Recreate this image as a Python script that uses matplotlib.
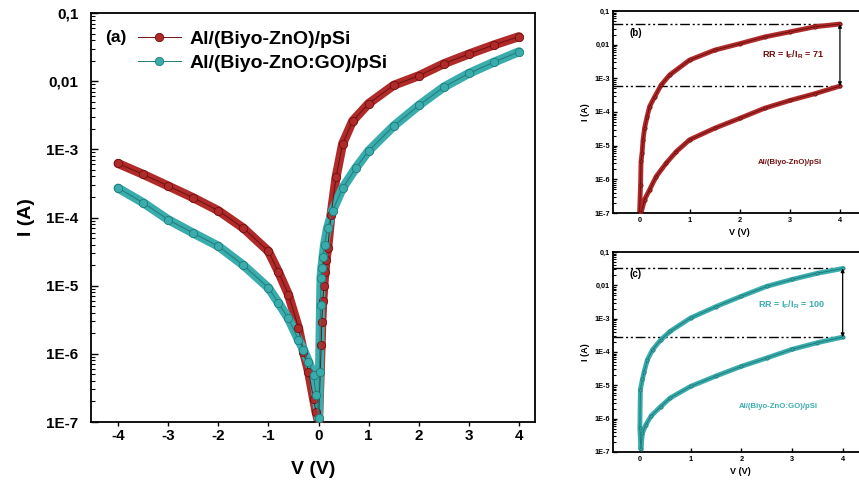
import numpy as np
import matplotlib
matplotlib.use("Agg")
import matplotlib.pyplot as plt
from matplotlib.ticker import FixedLocator, LogLocator, NullFormatter

plt.rcParams["font.family"] = ["Liberation Sans", "DejaVu Sans"]
plt.rcParams["font.weight"] = "bold"
plt.rcParams["mathtext.default"] = "regular"

# ---- panel (a): full sweep ----
v_rev = [-4.0, -3.5, -3.0, -2.5, -2.0, -1.5, -1.0, -0.8, -0.6, -0.4, -0.3, -0.2, -0.1, -0.05, 0.0]
i_rev_zno = [6.2e-4, 4.3e-4, 2.9e-4, 1.95e-4, 1.26e-4, 7.0e-5, 3.2e-5, 1.6e-5, 7.4e-6,
             2.4e-6, 1.07e-6, 5.5e-7, 2.2e-7, 1.4e-7, 1.0e-7]
i_rev_go = [2.7e-4, 1.65e-4, 9.3e-5, 5.9e-5, 3.8e-5, 2.0e-5, 9.3e-6, 5.6e-6, 3.3e-6,
            1.6e-6, 1.15e-6, 7.7e-7, 4.9e-7, 2.5e-7, 1.15e-7]

v_fwd_zno = [0.0, 0.053, 0.066, 0.086, 0.106, 0.13, 0.15, 0.185, 0.25, 0.35, 0.48, 0.68,
             1.0, 1.5, 2.0, 2.5, 3.0, 3.5, 4.0]
i_fwd_zno = [1.0e-7, 1.35e-6, 2.95e-6, 5.9e-6, 1.0e-5, 1.6e-5, 2.4e-5, 3.6e-5, 1.1e-4, 3.9e-4,
             1.2e-3, 2.6e-3, 4.7e-3, 8.7e-3, 1.2e-2, 1.8e-2, 2.5e-2, 3.4e-2, 4.5e-2]
v_fwd_go = [0.0, 0.02, 0.04, 0.05, 0.065, 0.09, 0.12, 0.18, 0.28, 0.48, 0.75,
            1.0, 1.5, 2.0, 2.5, 3.0, 3.5, 4.0]
i_fwd_go = [1.15e-7, 5.5e-7, 5.2e-6, 1.3e-5, 1.8e-5, 2.6e-5, 4.0e-5, 7.0e-5, 1.26e-4, 2.7e-4,
            5.4e-4, 9.5e-4, 2.2e-3, 4.4e-3, 8.2e-3, 1.3e-2, 1.9e-2, 2.7e-2]

# ---- panel (b): |I| vs |V| for Al/(Biyo-ZnO)/pSi ----
b_v_rev = [4.0, 3.5, 3.0, 2.5, 2.0, 1.5, 1.0, 0.73, 0.53, 0.33, 0.2, 0.1, 0.03]
b_i_rev = [5.9e-4, 3.5e-4, 2.2e-4, 1.3e-4, 6.5e-5, 3.3e-5, 1.5e-5, 6.6e-6, 3.0e-6, 1.2e-6,
           4.9e-7, 2.5e-7, 1.0e-7]
b_v_fwd = [0.0, 0.02, 0.03, 0.05, 0.07, 0.1, 0.15, 0.2, 0.3, 0.43, 0.6, 1.0, 1.5, 2.0,
           2.5, 3.0, 3.5, 4.0]
b_i_fwd = [1.0e-7, 6.9e-7, 3.4e-6, 6.0e-6, 1.5e-5, 3.3e-5, 7.2e-5, 1.45e-4, 2.8e-4, 6.3e-4,
           1.26e-3, 3.5e-3, 6.9e-3, 1.07e-2, 1.7e-2, 2.4e-2, 3.4e-2, 4.1e-2]

# ---- panel (c): |I| vs |V| for Al/(Biyo-ZnO:GO)/pSi ----
c_v_rev = [4.0, 3.5, 3.0, 2.5, 2.0, 1.5, 1.0, 0.6, 0.41, 0.22, 0.12, 0.05, 0.02]
c_i_rev = [2.8e-4, 1.9e-4, 1.2e-4, 6.6e-5, 3.7e-5, 1.9e-5, 9.3e-6, 4.2e-6, 2.3e-6, 1.2e-6,
           6.6e-7, 3.7e-7, 1.2e-7]
c_v_fwd = [0.0, 0.01, 0.05, 0.085, 0.15, 0.25, 0.41, 0.6, 1.0, 1.5, 2.0, 2.5, 3.0, 3.5, 4.0]
c_i_fwd = [5.2e-7, 7.4e-6, 1.5e-5, 2.6e-5, 5.9e-5, 1.17e-4, 2.3e-4, 4.2e-4, 1.05e-3, 2.3e-3,
           4.7e-3, 9.3e-3, 1.5e-2, 2.3e-2, 3.2e-2]

labels = ["Al/(Biyo-ZnO)/pSi", "Al/(Biyo-ZnO:GO)/pSi"]
rr_values = [71, 100]
y_ticks = [1e-7, 1e-6, 1e-5, 1e-4, 1e-3, 1e-2, 1e-1]
y_ticklabels = ["1E-7", "1E-6", "1E-5", "1E-4", "1E-3", "0,01", "0,1"]
x_ticks_main = [-4, -3, -2, -1, 0, 1, 2, 3, 4]
x_ticks_small = [0, 1, 2, 3, 4]

RED_FACE, RED_EDGE = "#b02a2a", "#6e0f0f"
TEAL_FACE, TEAL_EDGE = "#3aacac", "#1f7b7b"

W, H = 859, 488
fig = plt.figure(figsize=(W / 100, H / 100), dpi=100)


def px_axes(left, top, right, bottom):
    return fig.add_axes([left / W, 1 - bottom / H, (right - left) / W, (bottom - top) / H])


def draw_curve(ax, v, i, face, edge, ms, band, label=None):
    # wide band under the markers stands in for the densely packed points
    ax.plot(v, i, "-", color=face, lw=band, solid_capstyle="round", zorder=2)
    ax.plot(v, i, "-", color=edge, lw=0.7, marker="o", ms=ms, mfc=face, mec=edge,
            mew=0.6, zorder=3, label=label)


def log_axis(ax, fs, major_len, minor_len):
    ax.set_yscale("log")
    ax.set_ylim(1e-7, 0.1)
    ax.yaxis.set_major_locator(FixedLocator(y_ticks))
    ax.set_yticklabels(y_ticklabels)
    ax.yaxis.set_minor_locator(LogLocator(base=10, subs=np.arange(2, 10)))
    ax.yaxis.set_minor_formatter(NullFormatter())
    ax.tick_params(axis="y", which="major", direction="in", length=major_len, width=1,
                   labelsize=fs)
    ax.tick_params(axis="y", which="minor", direction="in", length=minor_len, width=0.8)
    for s in ax.spines.values():
        s.set_linewidth(1.3)


# ---------------- (a) ----------------
ax = px_axes(91, 13, 535, 422)
draw_curve(ax, v_rev + v_fwd_zno[1:], i_rev_zno + i_fwd_zno[1:], RED_FACE, RED_EDGE,
           6, 6.5, labels[0])
draw_curve(ax, v_rev + v_fwd_go[1:], i_rev_go + i_fwd_go[1:], TEAL_FACE, TEAL_EDGE,
           6, 6.5, labels[1])
log_axis(ax, 11, 5, 3)
ax.set_xlim(-4.54, 4.32)
ax.set_xticks(x_ticks_main)
ax.set_xticklabels([str(t) for t in x_ticks_main])
ax.tick_params(axis="x", direction="out", length=3, width=1, labelsize=11, pad=2)
ax.tick_params(axis="y", which="major", pad=9)
ax.set_xlabel("V (V)", fontsize=14, fontweight="bold", labelpad=13)
ax.set_ylabel("I (A)", fontsize=14, fontweight="bold", labelpad=8)
ax.text(0.056, 0.94, "(a)", transform=ax.transAxes, fontsize=12.5, va="center", ha="center")
ax.legend(loc="upper left", bbox_to_anchor=(138 / W, 1 - 30 / H),
          bbox_transform=fig.transFigure, frameon=False, fontsize=14,
          handlelength=2.2, handletextpad=0.45, labelspacing=0.35, borderpad=0,
          borderaxespad=0)

# ---------------- (b) and (c) ----------------
small = [
    (px_axes(613, 11, 865, 213), b_v_rev + b_v_fwd, b_i_rev + b_i_fwd, RED_FACE, RED_EDGE,
     "(b)", 0, b_i_fwd[-1], b_i_rev[0]),
    (px_axes(613, 252, 868, 452), c_v_rev + c_v_fwd, c_i_rev + c_i_fwd, TEAL_FACE, TEAL_EDGE,
     "(c)", 1, c_i_fwd[-1], c_i_rev[0]),
]
for axs, v, i, face, edge, tag, k, i_hi, i_lo in small:
    draw_curve(axs, v, i, face, edge, 2.3, 3.5)
    log_axis(axs, 5.3, 3, 1.8)
    axs.set_xlim(-0.53, 4.5)
    axs.set_xticks(x_ticks_small)
    axs.set_xticklabels([str(t) for t in x_ticks_small])
    axs.tick_params(axis="x", direction="in", length=3, width=1, labelsize=5.3, pad=3)
    axs.tick_params(axis="y", which="major", pad=2)
    axs.set_xlabel("V (V)", fontsize=6.5, fontweight="bold", labelpad=3)
    axs.set_ylabel("I (A)", fontsize=6.5, fontweight="bold", labelpad=3)
    axs.text(0.09, 0.89, tag, transform=axs.transAxes, fontsize=7, ha="center", va="center")
    dash = (0, (7, 2, 1.5, 2, 1.5, 2))
    for lvl in (i_hi, i_lo):
        axs.plot([-0.53, 4.0], [lvl, lvl], color="black", lw=1, linestyle=dash, zorder=1)
    axs.annotate("", xy=(4.0, i_hi), xytext=(4.0, i_lo),
                 arrowprops=dict(arrowstyle="<|-|>", color="black", lw=0.9,
                                 mutation_scale=5, shrinkA=0, shrinkB=0))
    rr = "RR = I$_F$/I$_R$ = %d" % rr_values[k]
    if k == 0:
        axs.text(3.06, 10 ** -2.31, rr, fontsize=6.5, color=edge, ha="center", va="center")
        axs.text(3.0, 10 ** -5.51, labels[0], fontsize=5.6, color=edge, ha="center",
                 va="center")
    else:
        axs.text(2.98, 10 ** -2.59, rr, fontsize=6.5, color=face, ha="center", va="center")
        axs.text(2.74, 10 ** -5.62, labels[1], fontsize=5.6, color=face, ha="center",
                 va="center")

fig.savefig("out.png", dpi=100)
